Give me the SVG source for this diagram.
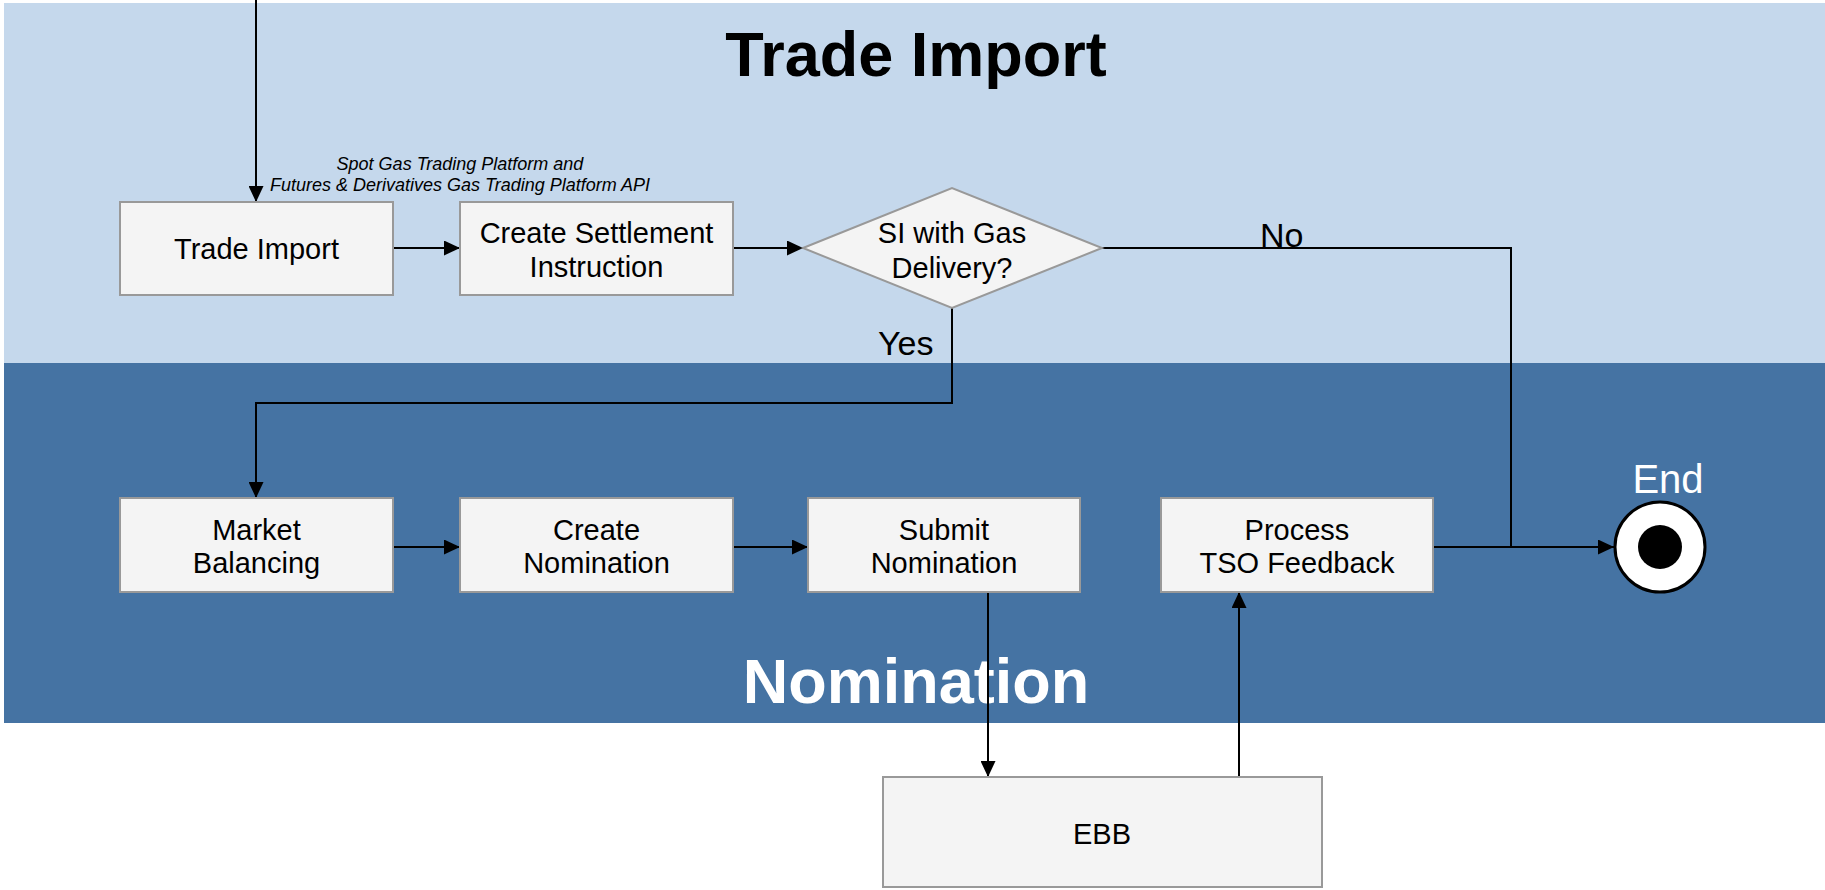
<svg xmlns="http://www.w3.org/2000/svg" width="1825" height="890" viewBox="0 0 1825 890">
<defs>
<style>
.box{fill:#F4F4F4;stroke:#999999;stroke-width:2}
.t{font-family:"Liberation Sans",Arial,sans-serif;font-size:29px;fill:#000;text-anchor:middle}
.conn{fill:none;stroke:#000;stroke-width:2}
.lbl{font-family:"Liberation Sans",Arial,sans-serif;font-size:34px;fill:#000}
.title{font-family:"Liberation Sans",Arial,sans-serif;font-size:63px;font-weight:bold;text-anchor:middle}
.note{font-family:"Liberation Sans",Arial,sans-serif;font-size:18px;font-style:italic;fill:#000;text-anchor:middle}
</style>
<marker id="arr" viewBox="0 0 16 15" refX="16" refY="7.5" markerWidth="16" markerHeight="15" markerUnits="userSpaceOnUse" orient="auto">
<path d="M0,0 L16,7.5 L0,15 z" fill="#000"/>
</marker>
</defs>
<rect width="1825" height="890" fill="#FFFFFF"/>
<g id="lane-trade-import">
<rect x="4" y="3" width="1821" height="360" fill="#C5D8EC"/>
<text class="title" x="916" y="76" fill="#000">Trade Import</text>
</g>
<g id="lane-nomination">
<rect x="4" y="363" width="1821" height="360" fill="#4573A3"/>
<text class="title" x="916" y="703" fill="#FFFFFF">Nomination</text>
</g>
<g id="connectors">
<path class="conn" d="M256,0 V202" marker-end="url(#arr)"/>
<path class="conn" d="M393,248 H460" marker-end="url(#arr)"/>
<path class="conn" d="M733,248 H803" marker-end="url(#arr)"/>
<path class="conn" d="M952,308 V403 H256 V498" marker-end="url(#arr)"/>
<path class="conn" d="M1102,248 H1511 V547"/>
<path class="conn" d="M1433,547 H1614" marker-end="url(#arr)"/>
<path class="conn" d="M393,547 H460" marker-end="url(#arr)"/>
<path class="conn" d="M733,547 H808" marker-end="url(#arr)"/>
<path class="conn" d="M988,592 V777" marker-end="url(#arr)"/>
<path class="conn" d="M1239,777 V592" marker-end="url(#arr)"/>
<text class="note" x="460" y="170">Spot Gas Trading Platform and</text>
<text class="note" x="460" y="191">Futures &amp; Derivatives Gas Trading Platform API</text>
<text class="lbl" x="1260" y="247">No</text>
<text class="lbl" x="878" y="355">Yes</text>
</g>
<g id="trade-import">
<rect class="box" x="120" y="202" width="273" height="93"/>
<text class="t" x="256.5" y="259">Trade Import</text>
</g>
<g id="create-settlement-instruction">
<rect class="box" x="460" y="202" width="273" height="93"/>
<text class="t" x="596.5" y="243">Create Settlement</text>
<text class="t" x="596.5" y="277">Instruction</text>
</g>
<g id="si-gas-delivery">
<polygon class="box" points="803,248 952,188 1102,248 952,308"/>
<text class="t" x="952" y="243">SI with Gas</text>
<text class="t" x="952" y="278">Delivery?</text>
</g>
<g id="market-balancing">
<rect class="box" x="120" y="498" width="273" height="94"/>
<text class="t" x="256.5" y="540">Market</text>
<text class="t" x="256.5" y="573">Balancing</text>
</g>
<g id="create-nomination">
<rect class="box" x="460" y="498" width="273" height="94"/>
<text class="t" x="596.5" y="540">Create</text>
<text class="t" x="596.5" y="573">Nomination</text>
</g>
<g id="submit-nomination">
<rect class="box" x="808" y="498" width="272" height="94"/>
<text class="t" x="944" y="540">Submit</text>
<text class="t" x="944" y="573">Nomination</text>
</g>
<g id="process-tso-feedback">
<rect class="box" x="1161" y="498" width="272" height="94"/>
<text class="t" x="1297" y="540">Process</text>
<text class="t" x="1297" y="573">TSO Feedback</text>
</g>
<g id="end">
<circle cx="1660" cy="547" r="45" fill="#FFFFFF" stroke="#000" stroke-width="3"/>
<circle cx="1660" cy="547" r="22" fill="#000"/>
<text x="1668" y="493" font-family="'Liberation Sans',Arial,sans-serif" font-size="40" fill="#FFFFFF" text-anchor="middle">End</text>
</g>
<g id="ebb">
<rect class="box" x="883" y="777" width="439" height="110"/>
<text class="t" x="1102" y="844">EBB</text>
</g>
</svg>
